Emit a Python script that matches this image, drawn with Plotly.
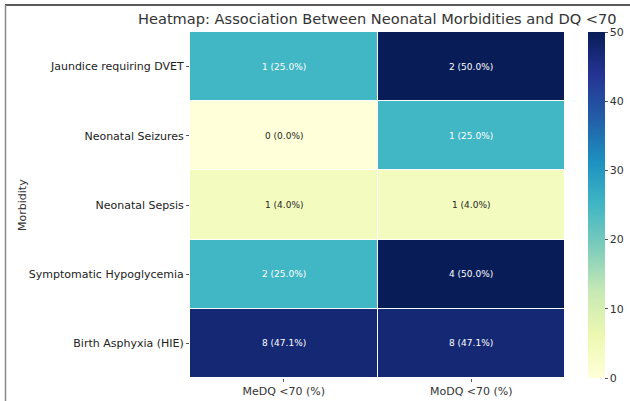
import plotly.graph_objects as go

morbidities = ["Jaundice requiring DVET", "Neonatal Seizures", "Neonatal Sepsis",
               "Symptomatic Hypoglycemia", "Birth Asphyxia (HIE)"]
groups = ["MeDQ <70 (%)", "MoDQ <70 (%)"]
me_counts = [1, 0, 1, 2, 8]
me_pct = [25.0, 0.0, 4.0, 25.0, 47.1]
mo_counts = [2, 1, 1, 4, 8]
mo_pct = [50.0, 25.0, 4.0, 50.0, 47.1]
cbar_ticks = [0, 10, 20, 30, 40, 50]

ylgnbu = ["#ffffd9", "#edf8b1", "#c7e9b4", "#7fcdbb", "#41b6c4",
          "#1d91c0", "#225ea8", "#253494", "#081d58"]
colorscale = [[i / (len(ylgnbu) - 1), c] for i, c in enumerate(ylgnbu)]

z = [[a, b] for a, b in zip(me_pct, mo_pct)]
counts = [[a, b] for a, b in zip(me_counts, mo_counts)]

font_family = "DejaVu Sans"
W, H = 630, 401
L, R, T, B = 190, 565, 32, 378
PW, PH = R - L, B - T

fig = go.Figure(go.Heatmap(
    z=z, x=groups, y=morbidities, zmin=0, zmax=50,
    colorscale=colorscale, xgap=1, ygap=1,
    hoverinfo="skip",
    colorbar=dict(
        x=(588 - L) / PW, xanchor="left", xpad=0, ypad=0,
        y=0.5, yanchor="middle", len=1, lenmode="fraction",
        thickness=17, outlinewidth=0, tickvals=cbar_ticks,
        ticks="outside", ticklen=3, tickcolor="#555",
        tickfont=dict(family=font_family, size=11, color="#333"),
    ),
))

annotations = []
for i, m in enumerate(morbidities):
    for j, g in enumerate(groups):
        v = z[i][j]
        annotations.append(dict(
            x=g, y=m, xref="x", yref="y", showarrow=False,
            text=f"{counts[i][j]} ({v:.1f}%)",
            font=dict(family=font_family, size=9,
                      color="white" if v >= 20 else "#262626"),
        ))

annotations.append(dict(
    text="Heatmap: Association Between Neonatal Morbidities and DQ <70",
    x=0.5, y=1 + (T - 19) / PH, xref="paper", yref="paper",
    showarrow=False, xanchor="center", yanchor="middle",
    font=dict(family=font_family, size=14.6, color="#333"),
))
annotations.append(dict(
    text="Morbidity", textangle=-90,
    x=(22 - L) / PW, y=0.5, xref="paper", yref="paper",
    showarrow=False, xanchor="center", yanchor="middle",
    font=dict(family=font_family, size=11, color="#333"),
))

fig.update_layout(
    width=W, height=H,
    margin=dict(l=L, r=W - R, t=T, b=H - B, pad=0, autoexpand=False),
    paper_bgcolor="white", plot_bgcolor="white",
    annotations=annotations,
    font=dict(family=font_family, color="#333"),
    xaxis=dict(showgrid=False, zeroline=False, ticks="outside", ticklen=3,
               tickcolor="#555", tickfont=dict(size=11, color="#333")),
    yaxis=dict(showgrid=False, zeroline=False, autorange="reversed",
               ticks="outside", ticklen=3, tickcolor="#555",
               tickfont=dict(size=11, color="#222")),
    shapes=[
        dict(type="line", xref="paper", yref="paper",
             x0=(5 - L) / PW, x1=(W - L) / PW, y0=1 + (T - 5) / PH, y1=1 + (T - 5) / PH,
             line=dict(color="#222", width=1.5)),
        dict(type="line", xref="paper", yref="paper",
             x0=(5.5 - L) / PW, x1=(5.5 - L) / PW, y0=1 + (T - 5) / PH, y1=-(H - B) / PH,
             line=dict(color="#888", width=1.5)),
    ],
)

fig.write_html("out.html", config={"displayModeBar": False},
               post_script="document.body.style.margin='0px';")
